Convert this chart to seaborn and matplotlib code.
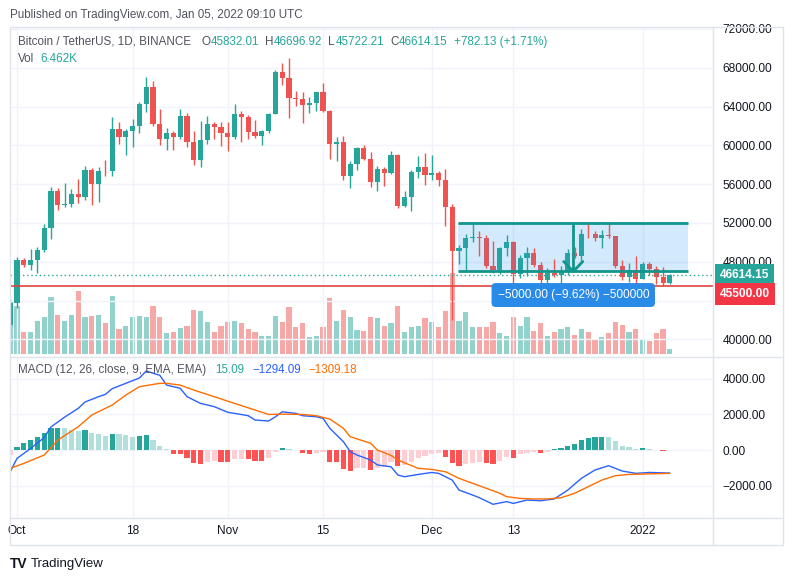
import numpy as np
import pandas as pd
import matplotlib
matplotlib.use('Agg')
import matplotlib.pyplot as plt
import seaborn as sns
from matplotlib.lines import Line2D
from matplotlib.patches import Rectangle
from matplotlib.transforms import blended_transform_factory

# ---- data (BTCUSDT, 1D, Sep 30 2021 - Jan 05 2022) ----
dates = pd.date_range('2021-09-30', '2022-01-05', freq='D')

open_ = [41522, 43790, 48165, 47657, 48233, 49245, 51493, 55340, 53805, 53967, 54963, 54690, 57485, 56006, 57368, 57347,
         61672, 60875, 61528, 62010, 64280, 66001, 62193, 60689, 61286, 60852, 63078, 60329, 58455, 60591, 62253, 61859,
         61300, 60911, 63219, 62896, 61395, 60937, 61470, 63273, 67525, 66947, 64882, 64774, 64122, 64380, 65466, 63557,
         60161, 60368, 56891, 58052, 59707, 58622, 56247, 57541, 57138, 58960, 53726, 54721, 57274, 57776,
         56950, 57184, 56480, 53601, 49152, 49396, 50441, 50588, 50471, 47545, 47140, 49389, 50053, 46702, 48343, 48864,
         47632, 46131, 46834, 46681, 46914, 48889, 48588, 50838, 50821, 50429, 50809, 50640, 47588, 46464, 47120,
         46216, 47722, 47286, 46446, 45832.01]
high = [44132, 48495, 48359, 49299, 49500, 51886, 55750, 55600, 56100, 55489, 56561, 57839, 57680, 57750, 58532, 62933,
        62379, 61718, 62695, 64486, 67000, 66639, 63732, 61747, 61500, 63710, 63293, 61496, 62499, 62980, 62359, 62405,
        62437, 64270, 63500, 63086, 62595, 61560, 63286, 67789, 68524, 69000, 65600, 65500, 64972, 65550, 66401, 63617,
        60823, 60977, 58366, 59859, 60030, 59266, 57875, 57735, 59398, 59150, 55280, 57445, 58865, 59249,
        59041, 57375, 57600, 53913, 49699, 50891, 51936, 51200, 50797, 50125, 49485, 50777, 50189, 48700, 49500, 49436,
        48004, 47360, 48300, 47537, 49328, 49576, 51375, 51868, 51156, 51280, 52088, 50704, 48139, 47900, 48548,
        47954, 47990, 47570, 47505, 46696.92]
low = [41410, 43283, 47451, 47120, 46891, 49000, 50382, 53357, 53600, 53661, 54080, 54415, 53879, 54167, 56818, 56850,
       60150, 58963, 59844, 61322, 63481, 62000, 60000, 59562, 59510, 60650, 59817, 58000, 57820, 60174, 60673, 59945,
       59405, 60624, 60382, 60677, 60721, 60050, 61322, 63273, 66222, 62822, 64100, 62278, 63360, 63576, 63400, 58574,
       58373, 56474, 55600, 57469, 58486, 55679, 55317, 55837, 57000, 53500, 53610, 53256, 56666, 55875,
       56458, 55777, 51680, 42000, 47727, 47100, 50039, 48600, 47320, 46852, 46751, 48638, 45672, 46290, 46547, 47511,
       45456, 45500, 46406, 45558, 46630, 48421, 48048, 50450, 50142, 49412, 50449, 47313, 46096, 45900, 45678,
       46208, 46654, 45696, 45500, 45722.21]
close = [43790, 48165, 47657, 48233, 49245, 51493, 55340, 53805, 53967, 54963, 54690, 57485, 56006, 57368, 57347, 61672,
         60875, 61528, 62010, 64280, 66001, 62193, 60689, 61286, 60852, 63078, 60329, 58455, 60591, 62253, 61859, 61300,
         60911, 63219, 62896, 61395, 60937, 61470, 63273, 67525, 66947, 64882, 64774, 64122, 64380, 65466, 63557, 60161,
         60368, 56891, 58052, 59707, 58622, 56247, 57541, 57138, 58960, 53726, 54721, 57274, 57776, 56950,
         57184, 56480, 53601, 49152, 49396, 50441, 50588, 50471, 47545, 47140, 49389, 50053, 46702, 48343, 48864, 47632,
         46131, 46834, 46681, 46914, 48889, 48588, 50838, 50821, 50429, 50809, 50640, 47588, 46464, 47120, 46216,
         47722, 47286, 46446, 45832.02, 46614.15]
# volume in thousands of BTC
volume = [68, 62, 28, 28, 43, 48, 74, 50, 43, 50, 81, 48, 49, 50, 40, 75, 32, 36, 48, 49, 48, 62, 48, 27, 28, 34, 36, 57,
          55, 41, 28, 36,
          41, 43, 40, 32, 28, 23, 23, 49, 41, 61, 35, 40, 22, 23, 35, 72, 43, 57, 48, 31, 30, 48, 46, 36, 40, 62, 28, 35,
          36, 46,
          41, 35, 55, 105, 43, 54, 35, 35, 35, 41, 27, 23, 48, 36, 48, 30, 40, 23, 28, 32, 35, 25, 32, 28, 18, 22, 27, 41,
          37, 28, 32,
          18, 17, 27, 32, 6.462]
macd_hist = [-280, 150, 375, 560, 750, 940, 1255, 1260, 1220, 1125, 1070, 1125, 940, 880, 790, 900, 895, 845, 750, 805,
             845, 560, 245, 35, -245, -250, -470, -750, -760, -655, -620, -655,
             -660, -505, -500, -525, -600, -605, -470, -95, 130, 40, 10, -185, -205, -150, -90, -655, -695, -1085, -1160,
             -1030, -1000, -1125, -995, -935, -695, -880, -845, -695, -470, -335,
             -245, -185, -375, -750, -880, -805, -750, -695, -750, -760, -620, -375, -430, -245, -185, -130, -150, -95,
             55, 95, 245, 335, 560, 695, 750, 760, 745, 505, 225, 185, 35,
             95, 40, 20, -55, 15.09]

# MACD and signal lines, sampled (day 0 = Oct 1)
macd_days = [-1, 0, 2, 4, 5, 7, 9, 10, 12, 13, 14, 16, 18, 19, 21, 22, 24, 25, 27, 29, 31, 32, 34, 35, 37, 38, 39, 41,
             42, 44, 45, 46, 48, 49, 50, 52, 53, 55, 56, 57, 59, 61, 62, 64, 65, 67, 68, 70, 72, 73, 75, 77, 79, 81, 83,
             85, 87, 89, 91, 93, 96]
macd_line = [-1220, -470, 90, 700, 1300, 1850, 2340, 2700, 3000, 3130, 3450, 3750, 4050, 4440, 4200, 3650, 3470, 3000,
             2620, 2440, 2120, 2060, 1930, 1690, 1630, 1870, 2150, 2060, 1930, 1870, 1780, 1220, 470, -90, -280, -560,
             -840, -940, -1400, -1500, -1370, -1260, -1310, -1690, -2250, -2530, -2680, -3050, -2900, -3000, -2810,
             -2850, -2750, -2250, -1590, -1120, -880, -1180, -1310, -1260, -1294.09]
signal_days = [-1, 1, 4, 6, 9, 11, 14, 16, 18, 21, 22, 24, 26, 29, 32, 35, 37, 39, 42, 44, 46, 48, 49, 52, 53, 55, 56,
               59, 61, 63, 65, 67, 69, 71, 72, 74, 76, 78, 80, 82, 84, 86, 88, 90, 92, 96]
signal_line = [-1030, -750, -280, 560, 1310, 1970, 2530, 3090, 3560, 3750, 3750, 3650, 3370, 3000, 2620, 2250, 2000,
               2020, 2000, 1930, 1740, 1220, 750, 380, 0, -300, -560, -1030, -1090, -1220, -1590, -1870, -2150, -2430,
               -2620, -2720, -2750, -2750, -2680, -2430, -2060, -1690, -1440, -1370, -1350, -1309.18]

tick_labels = ['Oct', '18', 'Nov', '15', 'Dec', '13', '2022']
tick_dates = ['2021-10-01', '2021-10-18', '2021-11-01', '2021-11-15', '2021-12-01', '2021-12-13', '2022-01-01']
price_ticks = [40000, 44000, 48000, 52000, 56000, 60000, 64000, 68000, 72000]
macd_ticks = [-2000, 0, 2000, 4000]

# price range drawing (Dec 05 -> right edge)
range_hi, range_lo = 52000, 47000
range_from, range_to, range_mid = 64.9, 98.7, 81.8
level = 45500

UP, DOWN = '#26A69A', '#EF5350'
TXT = '#131722'
GRID = '#F0F3FA'
BORDER = '#E0E3EB'

# ---- figure ----
sns.set_theme(style='white')
plt.rcParams['font.family'] = ['Liberation Sans', 'DejaVu Sans']

W, H = 793, 582
fig = plt.figure(figsize=(W / 100, H / 100), dpi=100)


def fx(x):
    return x / W


def fy(y):
    return 1 - y / H


origin = pd.Timestamp('2021-10-01')
days = np.array((dates - origin).days)
tick_days = [(pd.Timestamp(d) - origin).days for d in tick_dates]

o = np.array(open_)
h = np.array(high)
l = np.array(low)
c = np.array(close)
up = c >= o

ax = fig.add_axes([fx(10), fy(356), (713 - 10) / W, (356 - 27) / H])
vax = ax.twinx()
ax.set_zorder(vax.get_zorder() + 1)
ax.patch.set_visible(False)

# volume overlay
vax.bar(days, volume, width=0.78, color=np.where(up, '#26A69A80', '#EF535080'), linewidth=0)
vax.set_ylim(-2.6, 423)
vax.set_yticks([])

# candles
col = np.where(up, UP, DOWN)
ax.vlines(days, l, h, colors=col, linewidth=1)
ax.bar(days, np.maximum(np.abs(c - o), 60), bottom=np.minimum(o, c), width=0.74, color=col, linewidth=0)

# price range tool
ax.add_patch(Rectangle((range_from, range_lo), range_to - range_from, range_hi - range_lo,
                       facecolor='#2196F3', alpha=0.2, edgecolor='none'))
ax.hlines([range_hi, range_lo], range_from, range_to, color='#12958A', linewidth=2)
ax.vlines(range_mid, range_lo, range_hi, color='#12958A', linewidth=2)
ax.plot([range_mid - 1.4, range_mid, range_mid + 1.4], [range_lo + 1030, range_lo, range_lo + 1030],
        color='#12958A', linewidth=2, solid_capstyle='round')
diff = range_lo - range_hi
pct = diff / range_hi * 100
ax.text(range_mid, 44575, f'{diff:.2f} ({pct:.2f}%) −500000'.replace('-', '−'),
        ha='center', va='center', color='white', fontsize=8.6,
        bbox=dict(boxstyle='round,pad=0.5,rounding_size=0.35', fc='#2A8AE8', ec='none'))

# level line and last price line
ax.axhline(level, color='#E0443E', linewidth=1.2)
ax.axhline(c[-1], color=UP, linewidth=1, linestyle=(0, (1, 2)))

ax.set_xlim(-1.03, 102.35)
ax.set_ylim(38290, 72200)
ax.set_xticks(tick_days)
ax.set_xticklabels([])
ax.set_yticks(price_ticks)
ax.yaxis.tick_right()
ax.yaxis.set_major_formatter(plt.FuncFormatter(lambda v, p: f'{v:.2f}'))
ax.tick_params(axis='y', length=0, pad=7, labelsize=8.6, labelcolor=TXT)
ax.tick_params(axis='x', length=0)
ax.grid(True, color=GRID, linewidth=1)
for s in list(ax.spines.values()) + list(vax.spines.values()):
    s.set_visible(False)

side = blended_transform_factory(ax.transAxes, ax.transData)
ax.annotate(f'{c[-1]:.2f}', xy=(1, c[-1]), xycoords=side, xytext=(7, 0), textcoords='offset pixels',
            ha='left', va='center', color='white', fontsize=8.6, fontweight='bold', annotation_clip=False,
            bbox=dict(boxstyle='square,pad=0.4', fc=UP, ec='none'))
ax.annotate(f'{level:.2f}', xy=(1, level), xycoords=side, xytext=(7, -8), textcoords='offset pixels',
            ha='left', va='center', color='white', fontsize=8.6, fontweight='bold', annotation_clip=False,
            bbox=dict(boxstyle='square,pad=0.4', fc='#F23645', ec='none'))

# ---- MACD pane ----
mx = fig.add_axes([fx(10), fy(518), (713 - 10) / W, (518 - 357) / H])
hist = np.array(macd_hist)
prev = np.r_[hist[0] - 1, hist[:-1]]
rising = hist > prev
hcol = np.where(hist >= 0, np.where(rising, '#26A69A', '#B2DFDB'), np.where(rising, '#FFCDD2', '#FF5252'))
mx.bar(days, hist, width=0.78, color=hcol, linewidth=0)
sns.lineplot(x=macd_days, y=macd_line, ax=mx, color='#2962FF', linewidth=1)
sns.lineplot(x=signal_days, y=signal_line, ax=mx, color='#FF6D00', linewidth=1)
mx.set_xlim(-1.03, 102.35)
mx.set_ylim(-3820, 5230)
mx.set_yticks(macd_ticks)
mx.yaxis.tick_right()
mx.yaxis.set_major_formatter(plt.FuncFormatter(lambda v, p: f'{v:.2f}'.replace('-', '−')))
mx.set_xticks(tick_days)
mx.set_xticklabels(tick_labels)
mx.tick_params(axis='y', length=0, pad=7, labelsize=8.6, labelcolor=TXT)
mx.tick_params(axis='x', length=0, pad=5, labelsize=8.6, labelcolor=TXT)
mx.grid(True, color=GRID, linewidth=1)
mx.set_xlabel('')
mx.set_ylabel('')
for s in mx.spines.values():
    s.set_visible(False)

# ---- frame ----
for x0, y0, x1, y1 in [(10, 27, 783, 27), (10, 356.5, 783, 356.5), (10, 518, 783, 518), (10, 545, 783, 545),
                       (10, 27, 10, 545), (713, 27, 713, 545), (783, 27, 783, 545)]:
    fig.add_artist(Line2D([fx(x0), fx(x1)], [fy(y0), fy(y1)], color=BORDER, linewidth=1))

# ---- texts ----
renderer = fig.canvas.get_renderer()


def run_text(x, y, items, size):
    # items: (text, colour, gap after in px)
    for s, colr, gap in items:
        t = fig.text(fx(x), fy(y), s, color=colr, fontsize=size, va='center', ha='left')
        x += t.get_window_extent(renderer).width + gap


GRAY = '#50535E'
chg = c[-1] - c[-2]
run_text(10, 15, [('Published on TradingView.com, Jan 05, 2022 09:10 UTC', GRAY, 0)], 8.4)
run_text(18, 42, [('Bitcoin / TetherUS, 1D, BINANCE', GRAY, 10),
                  ('O', GRAY, 0.5), (f'{o[-1]:.2f}', UP, 6), ('H', GRAY, 0.5), (f'{h[-1]:.2f}', UP, 6),
                  ('L', GRAY, 0.5), (f'{l[-1]:.2f}', UP, 6), ('C', GRAY, 0.5), (f'{c[-1]:.2f}', UP, 6),
                  (f'+{chg:.2f} (+{chg / c[-2] * 100:.2f}%)', UP, 0)], 8.4)
run_text(18, 59, [('Vol', GRAY, 6), (f'{volume[-1]:.3f}K', UP, 0)], 8.4)
run_text(18, 370, [('MACD (12, 26, close, 9, EMA, EMA)', GRAY, 9), (f'{macd_hist[-1]:.2f}', UP, 8),
                   (f'{macd_line[-1]:.2f}'.replace('-', '−'), '#2962FF', 8),
                   (f'{signal_line[-1]:.2f}'.replace('-', '−'), '#FF6D00', 0)], 8.4)
fig.text(fx(10), fy(564), 'TV', fontsize=10, fontweight='bold', color=TXT, va='center')
fig.text(fx(31), fy(564), 'TradingView', fontsize=9.5, color=TXT, va='center')

fig.savefig('out.png', dpi=100, facecolor='white')
